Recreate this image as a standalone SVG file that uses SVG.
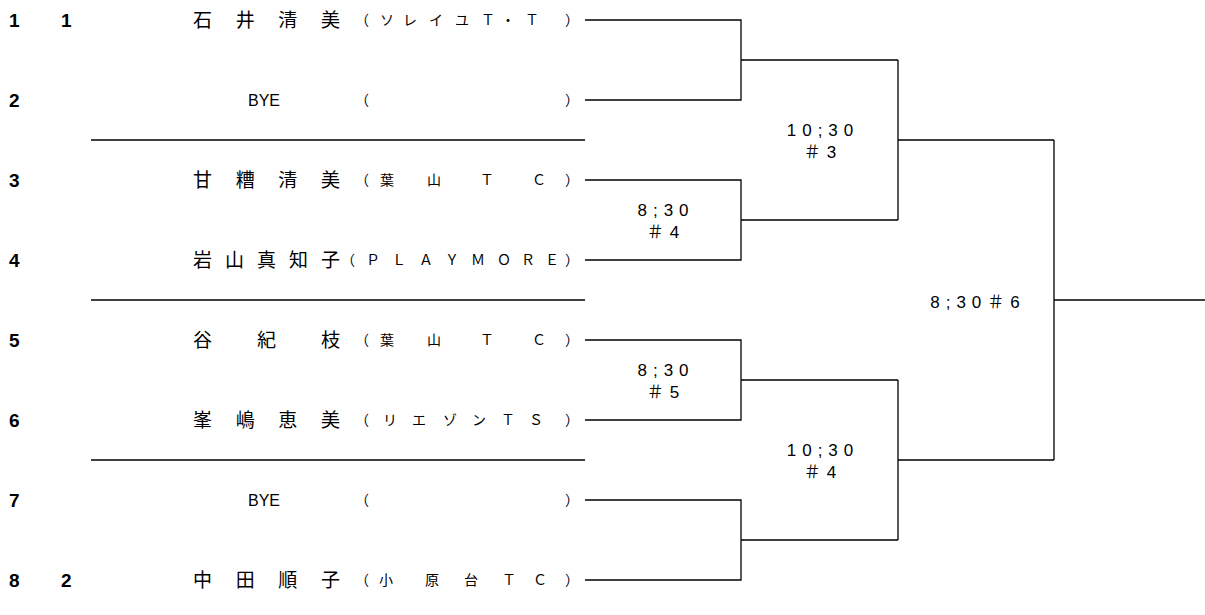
<svg xmlns="http://www.w3.org/2000/svg" width="1205" height="615" viewBox="0 0 1205 615">
<style>
.num{font-family:"Liberation Sans Narrow","Liberation Sans",Arial,sans-serif;font-weight:bold;font-size:19px;fill:#000}
.nm{font-family:"Noto Sans CJK JP","Noto Sans CJK SC",sans-serif;font-size:19px;fill:#000}
.cl{font-family:"Noto Sans CJK JP","Noto Sans CJK SC",sans-serif;font-size:14px;fill:#000}
.bye{font-family:"Liberation Sans",Arial,sans-serif;font-size:16px;fill:#000}
.lbl{font-family:"Liberation Sans","Noto Sans CJK JP",sans-serif;font-size:17px;letter-spacing:6px;fill:#000;text-anchor:middle}
.ln{stroke:#000;stroke-width:1.3;fill:none}
</style>
<rect width="1205" height="615" fill="#fff"/>
<g id="player1">
<text class="num" x="9" y="27">1</text><text class="num" x="61" y="27">1</text>
<text class="nm" x="193" y="27" textLength="147" lengthAdjust="spacing">石井清美</text>
<text class="cl" x="355 380 403 429 455 481 501 525 565" y="25">（ソレイユＴ・Ｔ）</text>
</g>
<g id="player2">
<text class="num" x="9" y="107">2</text>
<text class="bye" x="248" y="106">BYE</text>
<text class="cl" x="355" y="105">（</text><text class="cl" x="565" y="105">）</text>
</g>
<g id="player3">
<text class="num" x="9" y="187">3</text>
<text class="nm" x="193" y="187" textLength="147" lengthAdjust="spacing">甘糟清美</text>
<text class="cl" x="355 380 427 480 532 565" y="185">（葉山ＴＣ）</text>
</g>
<g id="player4">
<text class="num" x="9" y="267">4</text>
<text class="nm" x="193" y="267" textLength="147" lengthAdjust="spacing">岩山真知子</text>
<text class="cl" x="341 366 392 419 445 471 497 521 545 565" y="265">（ＰＬＡＹＭＯＲＥ）</text>
</g>
<g id="player5">
<text class="num" x="9" y="347">5</text>
<text class="nm" x="193" y="347" textLength="147" lengthAdjust="spacing">谷紀枝</text>
<text class="cl" x="355 380 427 480 532 565" y="345">（葉山ＴＣ）</text>
</g>
<g id="player6">
<text class="num" x="9" y="427">6</text>
<text class="nm" x="193" y="427" textLength="147" lengthAdjust="spacing">峯嶋恵美</text>
<text class="cl" x="355 383 412 443 472 501 529 565" y="425">（リエゾンＴＳ）</text>
</g>
<g id="player7">
<text class="num" x="9" y="507">7</text>
<text class="bye" x="248" y="506">BYE</text>
<text class="cl" x="355" y="505">（</text><text class="cl" x="565" y="505">）</text>
</g>
<g id="player8">
<text class="num" x="9" y="587">8</text><text class="num" x="61" y="587">2</text>
<text class="nm" x="193" y="587" textLength="147" lengthAdjust="spacing">中田順子</text>
<text class="cl" x="355 379 425 464 502 533 565" y="585">（小原台ＴＣ）</text>
</g>
<g id="labels">
<text class="lbl" x="823" y="136">10;30</text><text class="lbl" x="823" y="158">＃3</text>
<text class="lbl" x="666" y="216">8;30</text><text class="lbl" x="666" y="238">＃4</text>
<text class="lbl" x="666" y="376">8;30</text><text class="lbl" x="666" y="398">＃5</text>
<text class="lbl" x="823" y="456">10;30</text><text class="lbl" x="823" y="478">＃4</text>
<text class="lbl" x="978" y="308">8;30＃6</text>
</g>
<g id="connectors">
<path class="ln" d="M91 140H585M91 300H585M91 460H585"/>
<path class="ln" d="M585 20H741V100H585M741 60H898"/>
<path class="ln" d="M585 180H741V260H585M741 220H898"/>
<path class="ln" d="M585 340H741V420H585M741 380H898"/>
<path class="ln" d="M585 500H741V580H585M741 540H898"/>
<path class="ln" d="M898 60V220M898 140H1054M898 380V540M898 460H1054"/>
<path class="ln" d="M1054 140V460M1054 300H1205"/>
</g>
</svg>
